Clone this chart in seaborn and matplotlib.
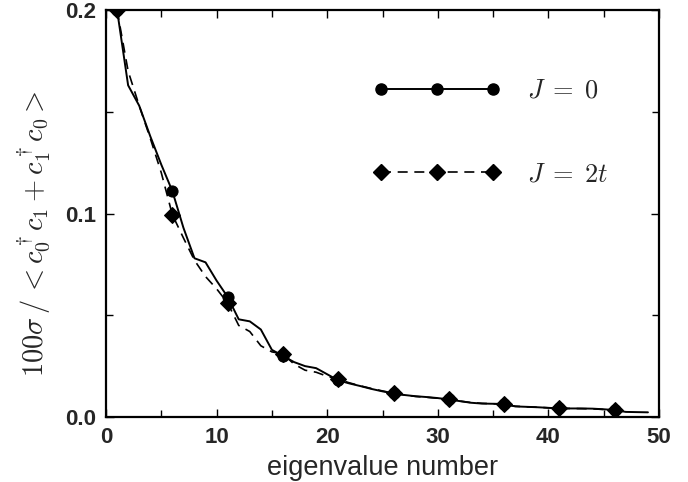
import numpy as np
import pandas as pd
import matplotlib
matplotlib.use("Agg")
import matplotlib.pyplot as plt
import seaborn as sns
from matplotlib.lines import Line2D

# ---- data ----
eig_j0 = list(range(1, 50))
sigma_j0 = [0.200, 0.163, 0.153, 0.138, 0.124, 0.111, 0.093, 0.078, 0.076, 0.067,
            0.059, 0.048, 0.047, 0.043, 0.033, 0.030, 0.027, 0.025, 0.024, 0.021,
            0.018, 0.0165, 0.0152, 0.0138, 0.0126, 0.0116, 0.0108, 0.0102, 0.0098, 0.0093,
            0.0086, 0.0078, 0.0070, 0.0066, 0.0065, 0.0064, 0.0052, 0.0050, 0.0048, 0.0045,
            0.0042, 0.0042, 0.0042, 0.0041, 0.0038, 0.0034, 0.0025, 0.0024, 0.0023]

eig_j2t = list(range(1, 47))
sigma_j2t = [0.200, 0.170, 0.153, 0.137, 0.120, 0.0994, 0.088, 0.077, 0.069, 0.063,
             0.056, 0.045, 0.042, 0.035, 0.032, 0.031, 0.026, 0.023, 0.022, 0.020,
             0.0185, 0.0168, 0.0153, 0.0140, 0.0128, 0.0117, 0.0108, 0.0101, 0.0097, 0.0092,
             0.0087, 0.0078, 0.0071, 0.0067, 0.0065, 0.0063, 0.0053, 0.0050, 0.0048, 0.0045,
             0.0042, 0.0042, 0.0041, 0.0040, 0.0037, 0.0034]

labels = [r"$J\;=\;0$", r"$J\;=\;2t$"]
x_ticks = [0, 10, 20, 30, 40, 50]
y_ticks = [0.0, 0.1, 0.2]
y_tick_labels = ["0.0", "0.1", "0.2"]

sns.set_theme(style="ticks")
plt.rcParams["font.family"] = ["Liberation Sans", "DejaVu Sans"]
plt.rcParams["mathtext.fontset"] = "cm"

fig = plt.figure(figsize=(6.88, 4.82), dpi=100)
ax = fig.add_axes([106/688, 1-417/482, (659-106)/688, (417-10)/482])

df0 = pd.DataFrame({"n": eig_j0, "s": sigma_j0})
df1 = pd.DataFrame({"n": eig_j2t, "s": sigma_j2t})

sns.lineplot(data=df0, x="n", y="s", ax=ax, color="black", linewidth=1.4,
             linestyle="-", marker="o", markersize=8, markevery=5,
             markeredgecolor="black", markerfacecolor="black")
sns.lineplot(data=df1, x="n", y="s", ax=ax, color="black", linewidth=1.2,
             linestyle=(0, (6, 4)), marker="D", markersize=8, markevery=5,
             markeredgecolor="black", markerfacecolor="black")

ax.set_xlim(0, 50)
ax.set_ylim(0, 0.2)
ax.set_xticks(x_ticks)
ax.set_xticks([5, 15, 25, 35, 45], minor=True)
ax.set_yticks(y_ticks)
ax.set_yticklabels(y_tick_labels)
ax.set_yticks([0.05, 0.15], minor=True)
ax.tick_params(which="both", direction="in", top=True, right=True, width=1.0, color="black")
ax.tick_params(which="major", length=6, labelsize=16, pad=7)
ax.tick_params(which="minor", length=5)
for lab in ax.get_xticklabels() + ax.get_yticklabels():
    lab.set_fontweight("bold")
for sp in ax.spines.values():
    sp.set_linewidth(1.6)
    sp.set_color("black")

ax.set_xlabel("eigenvalue number", fontsize=19.5, labelpad=5)
ax.set_ylabel(r"$100\sigma\,/\,<c_0^\dagger c_1+c_1^\dagger c_0>$", fontsize=20.5)
ax.yaxis.set_label_coords(-0.098, 0.45)

handles = [
    Line2D([], [], color="black", linewidth=1.4, linestyle="-", marker="o",
           markersize=8),
    Line2D([], [], color="black", linewidth=1.2, linestyle=(0, (6, 4)), marker="D",
           markersize=8),
]
leg = ax.legend(handles, labels, numpoints=3, frameon=False, fontsize=19,
                handlelength=4.84, handletextpad=1.0, labelspacing=2.24,
                loc="upper left", bbox_to_anchor=(373/688, 1-79/482),
                bbox_transform=fig.transFigure, borderpad=0, borderaxespad=0)

fig.savefig("out.png", dpi=100)
